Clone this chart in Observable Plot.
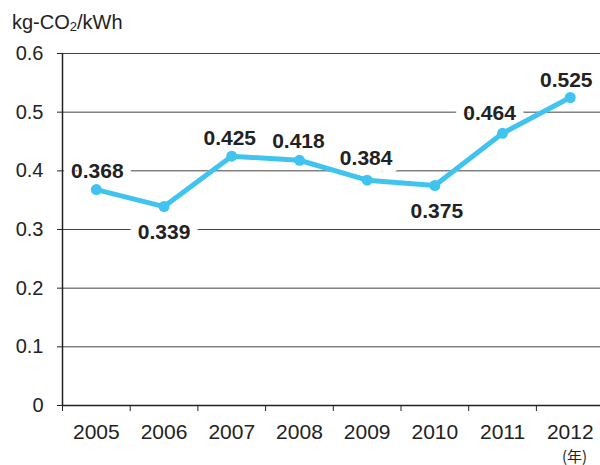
<!DOCTYPE html>
<html>
<head>
<meta charset="utf-8">
<script src="https://cdn.jsdelivr.net/npm/d3@7"></script>
<script src="https://cdn.jsdelivr.net/npm/@observablehq/plot@0.6"></script>
<style>
  html, body { margin: 0; padding: 0; background: #fff; }
  #wrap { position: relative; width: 600px; height: 465px; overflow: hidden; font-family: "Liberation Sans", Arial, sans-serif; color: #222; }
  #title { position: absolute; left: 12px; top: 12px; font-size: 20px; line-height: 1; }
  #title sub { font-size: 13px; vertical-align: -2px; line-height: 0; }
  #unit { position: absolute; left: 562px; top: 448px; font-size: 15px; line-height: 15px; height: 15px; font-family: "Noto Sans CJK JP", sans-serif; }
</style>
</head>
<body>
<div id="wrap">
  <div id="chart"></div>
  <div id="title">kg-CO<sub>2</sub>/kWh</div>
  <div id="unit">(年)</div>
</div>
<script>
const years = [2005, 2006, 2007, 2008, 2009, 2010, 2011, 2012];
const values = [0.368, 0.339, 0.425, 0.418, 0.384, 0.375, 0.464, 0.525];
const valueLabels = ["0.368", "0.339", "0.425", "0.418", "0.384", "0.375", "0.464", "0.525"];
const yTicks = [0, 0.1, 0.2, 0.3, 0.4, 0.5, 0.6];

const data = years.map((year, i) => ({year, value: values[i], label: valueLabels[i]}));

// label placement (pixels): offset from point to label baseline
const labelOffsets = {
  2005: [1, -12], 2006: [0, 32], 2007: [-2, -11], 2008: [-1, -12],
  2009: [-1, -15], 2010: [2, 32], 2011: [-13, -13], 2012: [-4, -11]
};

const bounds = years.map(y => y - 0.5);
const blue = "#40C4EF";
const ink = "#222";

const labelMarks = data.map(d => Plot.text([d], {
  x: "year", y: "value", text: "label",
  dx: labelOffsets[d.year][0], dy: labelOffsets[d.year][1],
  lineAnchor: "bottom", textAnchor: "middle",
  fontSize: 21, fontWeight: "bold", fill: ink,
  stroke: "white", strokeWidth: 16, strokeLinejoin: "round"
}));

const chart = Plot.plot({
  width: 600,
  height: 465,
  marginLeft: 62,
  marginRight: 0,
  marginTop: 53,
  marginBottom: 60,
  style: {fontFamily: "'Liberation Sans', Arial, sans-serif", color: ink, background: "white"},
  x: {domain: [2004.5, 2012.5], range: [62, 603.6]},
  y: {domain: [0, 0.6]},
  marks: [
    Plot.ruleY(yTicks.filter(t => t > 0), {stroke: "#444", strokeWidth: 1}),
    Plot.axisY(yTicks, {
      tickSize: 5, tickPadding: 14, fontSize: 20, label: null, stroke: ink, fill: ink,
      tickFormat: d => d === 0 ? "0" : d.toFixed(1)
    }),
    Plot.axisX(bounds, {tickSize: 6, tickFormat: () => "", label: null, stroke: ink}),
    Plot.axisX(years, {tickSize: 0, tickPadding: 19, fontSize: 21, label: null, fill: ink, tickFormat: d => String(d)}),
    ...labelMarks,
    Plot.ruleX([2004.5], {stroke: ink, strokeWidth: 1.5}),
    Plot.ruleY([0], {stroke: ink, strokeWidth: 1.5}),
    Plot.line(data, {x: "year", y: "value", stroke: blue, strokeWidth: 5, strokeLinejoin: "round"}),
    Plot.dot(data, {x: "year", y: "value", r: 5.5, fill: blue})
  ]
});
document.getElementById("chart").appendChild(chart);
</script>
</body>
</html>
